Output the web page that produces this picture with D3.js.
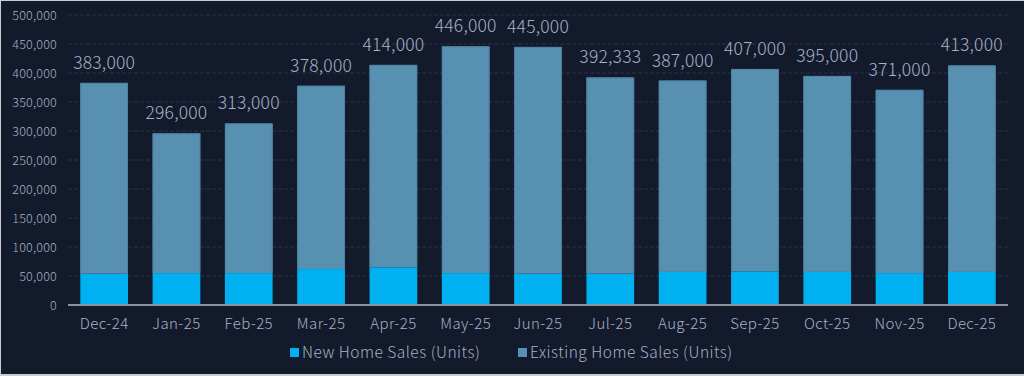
<!DOCTYPE html>
<html>
<head>
<meta charset="utf-8">
<script src="https://cdn.jsdelivr.net/npm/d3@7"></script>
<style>
  html, body { margin: 0; padding: 0; background: #c9ccd2; }
  svg { display: block; }
  text { font-family: "Noto Sans CJK JP", "Noto Sans", sans-serif; font-weight: 300; }
</style>
</head>
<body>
<svg id="chart" width="1024" height="376"></svg>
<script>
const categories = ["Dec-24","Jan-25","Feb-25","Mar-25","Apr-25","May-25","Jun-25","Jul-25","Aug-25","Sep-25","Oct-25","Nov-25","Dec-25"];
const newHomeSales = [54000, 55000, 55000, 62000, 65000, 55000, 54000, 54000, 57000, 58000, 57000, 55000, 57000];
const existingHomeSales = [329000, 241000, 258000, 316000, 349000, 391000, 391000, 338333, 330000, 349000, 338000, 316000, 356000];
const yTicks = [0, 50000, 100000, 150000, 200000, 250000, 300000, 350000, 400000, 450000, 500000];
const seriesNames = ["New Home Sales (Units)", "Existing Home Sales (Units)"];
const seriesColors = ["#00b0f0", "#5890b2"];

const svg = d3.select("#chart");
const W = 1024, H = 376;
const textColor = "#a7b1c8";

svg.append("rect").attr("x", 1).attr("y", 1).attr("width", W - 1).attr("height", H - 3).attr("fill", "#131a2b");

const margin = { left: 68, right: 16, top: 15, bottom: 71 };
const x = d3.scaleBand().domain(categories).range([margin.left, W - margin.right]).paddingInner(0.34).paddingOuter(0.17);
const y = d3.scaleLinear().domain([0, 500000]).range([H - margin.bottom, margin.top]);

// gridlines
svg.append("g").selectAll("line").data(yTicks.filter(d => d > 0)).join("line")
  .attr("x1", margin.left).attr("x2", W - margin.right)
  .attr("y1", d => y(d)).attr("y2", d => y(d))
  .attr("stroke", "#2b3346").attr("stroke-width", 1).attr("stroke-dasharray", "4,2");

// y axis
const yAxis = d3.axisLeft(y).tickValues(yTicks).tickFormat(d3.format(",")).tickSize(0).tickPadding(11);
const gy = svg.append("g").attr("transform", `translate(${margin.left},0)`).call(yAxis);
gy.select(".domain").remove();
gy.selectAll("text").attr("fill", textColor).style("font-size", "12.5px").style("letter-spacing", "0.2px");

// stacked bars
const data = categories.map((c, i) => ({ cat: c, n: newHomeSales[i], e: existingHomeSales[i] }));
const stack = d3.stack().keys(["n", "e"])(data);
svg.append("g").selectAll("g").data(stack).join("g")
  .attr("fill", (d, i) => seriesColors[i])
  .selectAll("rect").data(d => d).join("rect")
  .attr("x", d => x(d.data.cat))
  .attr("width", x.bandwidth())
  .attr("y", d => y(d[1]))
  .attr("height", d => y(d[0]) - y(d[1]));

// bar outline for existing
svg.append("g").selectAll("path").data(data).join("path")
  .attr("d", d => `M${x(d.cat)+0.5},${y(d.n)} V${y(d.n + d.e)+0.5} H${x(d.cat)+x.bandwidth()-0.5} V${y(d.n)}`)
  .attr("fill", "none").attr("stroke", "#4f83a3").attr("stroke-width", 1);

// x axis
const xAxis = d3.axisBottom(x).tickSize(0).tickPadding(13);
const gx = svg.append("g").attr("transform", `translate(0,${y(0)})`).call(xAxis);
gx.select(".domain").attr("stroke", "#8d929c").attr("stroke-width", 2).attr("d", `M${margin.left},0H${W - margin.right}`);
gx.selectAll("text").attr("fill", textColor).style("font-size", "15px").style("letter-spacing", "0.4px");

// total labels
svg.append("g").selectAll("text").data(data).join("text")
  .attr("x", d => x(d.cat) + x.bandwidth() / 2)
  .attr("y", d => y(d.n + d.e) - 14)
  .attr("text-anchor", "middle")
  .attr("fill", textColor)
  .style("font-size", "17.5px")
  .style("letter-spacing", "0.2px")
  .text(d => d3.format(",")(d.n + d.e));

// legend
const legend = svg.append("g").attr("transform", `translate(0,353)`);
const legendX = [290, 518];
seriesNames.forEach((name, i) => {
  legend.append("rect").attr("x", legendX[i]).attr("y", -5).attr("width", 9).attr("height", 9).attr("fill", seriesColors[i]);
  legend.append("text").attr("x", legendX[i] + 12).attr("y", 0).attr("dy", "0.35em")
    .attr("fill", textColor).style("font-size", "15.5px").style("letter-spacing", "0.5px").text(name);
});
</script>
</body>
</html>
